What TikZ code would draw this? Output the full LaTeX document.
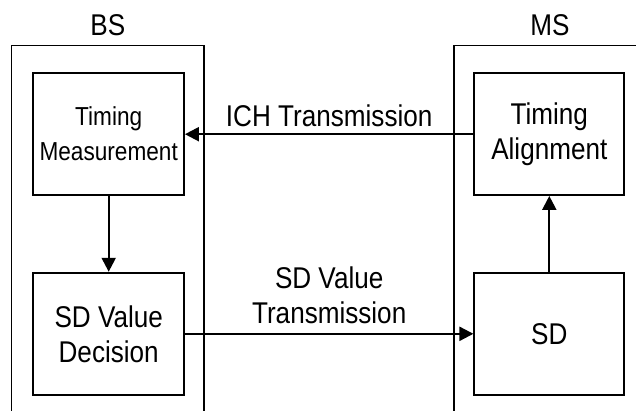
\documentclass[tikz,border=0pt]{standalone}
\usepackage{fontspec}
\setmainfont[FakeStretch=0.87]{Liberation Sans}
\usetikzlibrary{arrows.meta}
\begin{document}
\begin{tikzpicture}[x=1pt,y=-1pt,
  box/.style={draw=black, line width=1.8pt, fill=white, align=center, inner sep=0pt},
  outer/.style={draw=black, line width=1.8pt},
  arr/.style={line width=2.2pt, -{Triangle[length=14pt,width=14pt]}},
  lbl/.style={font=\fontsize{30}{35}\selectfont, inner sep=0pt, align=center}
]
\useasboundingbox (0,0) rectangle (636,410);
\clip (0,0) rectangle (636,410);
% containers
\node[outer, minimum width=192.5pt, minimum height=384.5pt] (bs) at (107.75,237.75) {};
\node[outer, minimum width=206pt, minimum height=384.5pt] (ms) at (557,237.75) {};
\node[lbl, anchor=base] (bsl) at (107.75,35) {BS};
\node[lbl, anchor=base] (msl) at (550,35) {MS};
% inner boxes
\node[box, minimum width=150.7pt, minimum height=121.7pt, font=\fontsize{26}{35}\selectfont] (tm) at (108.7,134.2) {Timing\\Measurement};
\node[box, minimum width=150.7pt, minimum height=122.3pt, font=\fontsize{30}{35}\selectfont] (sdvd) at (108.7,333.8) {SD Value\\Decision};
\node[box, minimum width=150pt, minimum height=121.7pt, font=\fontsize{30}{35}\selectfont] (ta) at (549.3,134.2) {Timing\\Alignment};
\node[box, minimum width=150pt, minimum height=122.3pt, font=\fontsize{30}{35}\selectfont] (sd) at (549.3,333.8) {SD};
% connectors
\draw[arr] (ta.west) -- node[lbl, above=6.5pt] {ICH Transmission} (tm.east);
\draw[arr] (sdvd.east) -- node[lbl, above=9pt] {SD Value\\Transmission} (sd.west);
\draw[arr] (tm.south) -- (sdvd.north);
\draw[arr] (sd.north) -- (ta.south);
\end{tikzpicture}
\end{document}
